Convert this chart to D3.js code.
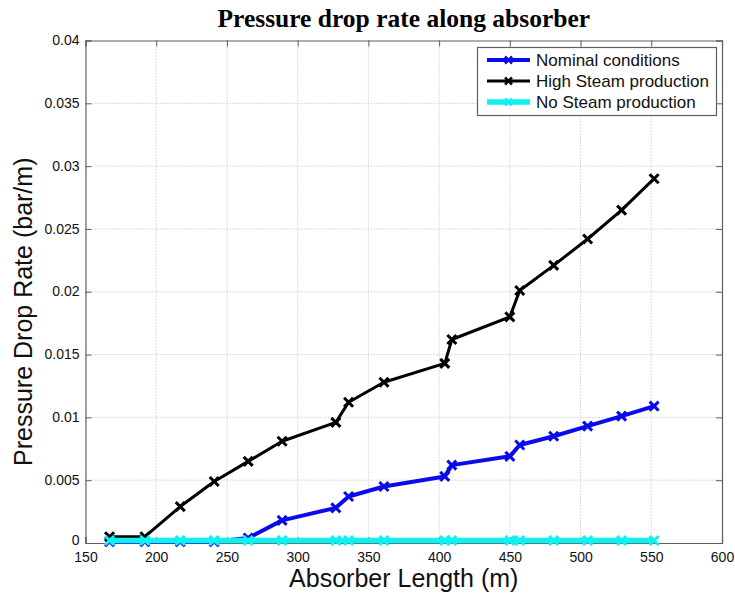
<!DOCTYPE html>
<html>
<head>
<meta charset="utf-8">
<script src="https://cdn.jsdelivr.net/npm/d3@7"></script>
<style>
  html, body { margin: 0; padding: 0; background: #fff; }
  svg { display: block; }
</style>
</head>
<body>
<svg id="chart" width="735" height="594"></svg>
<script>
// Absorber length positions (m)
const lengths = [167, 192, 217, 241, 265, 289, 327, 336, 361, 404, 409, 450, 457, 481, 505, 529, 552];

// Pressure drop rate (bar/m) per operating case
const nominal = [0.0001, 0.0001, 0.0001, 0.0001, 0.0004, 0.0018, 0.0028, 0.0037, 0.0045, 0.0053, 0.0062, 0.0069, 0.0078, 0.0085, 0.0093, 0.0101, 0.0109];
const highSteam = [0.0005, 0.0005, 0.0029, 0.0049, 0.0065, 0.0081, 0.0096, 0.0112, 0.0128, 0.0143, 0.0162, 0.0180, 0.0201, 0.0221, 0.0242, 0.0265, 0.0290];
const noSteam = [0.0002, 0.0002, 0.0002, 0.0002, 0.0002, 0.0002, 0.0002, 0.0002, 0.0002, 0.0002, 0.0002, 0.0002, 0.0002, 0.0002, 0.0002, 0.0002, 0.0002];

const seriesNames = ["Nominal conditions", "High Steam production", "No Steam production"];
const seriesColors = ["#0a0aea", "#000000", "#10f0f0"];
const seriesWidths = [4, 3, 5.5];

const xTicks = [150, 200, 250, 300, 350, 400, 450, 500, 550, 600];
const yTicks = [0, 0.005, 0.01, 0.015, 0.02, 0.025, 0.03, 0.035, 0.04];

const svg = d3.select("#chart");
const L = 85.5, R = 722, T = 40.5, B = 543;

const x = d3.scaleLinear().domain([150, 600]).range([L, R]);
const y = d3.scaleLinear().domain([0, 0.04]).range([B, T]);

// dotted grid
const grid = svg.append("g").attr("stroke", "#b8b8b8").attr("stroke-width", 1)
  .attr("stroke-dasharray", "1,2");
grid.selectAll("line.gx").data(xTicks.slice(1, -1)).join("line")
  .attr("x1", d => x(d)).attr("x2", d => x(d)).attr("y1", T).attr("y2", B);
grid.selectAll("line.gy").data(yTicks.slice(1, -1)).join("line")
  .attr("y1", d => y(d)).attr("y2", d => y(d)).attr("x1", L).attr("x2", R);

// axes with inward ticks on all four sides
const tickFont = "Liberation Sans, Arial, sans-serif";
const axB = svg.append("g").attr("transform", `translate(0,${B})`)
  .call(d3.axisBottom(x).tickValues(xTicks).tickSize(-6).tickPadding(9).tickFormat(d3.format("d")));
const axT = svg.append("g").attr("transform", `translate(0,${T})`)
  .call(d3.axisTop(x).tickValues(xTicks).tickSize(-6).tickFormat(""));
const axL = svg.append("g").attr("transform", `translate(${L},0)`)
  .call(d3.axisLeft(y).tickValues(yTicks).tickSize(-6).tickPadding(6).tickFormat(d3.format("~g")));
const axR = svg.append("g").attr("transform", `translate(${R},0)`)
  .call(d3.axisRight(y).tickValues(yTicks).tickSize(-6).tickFormat(""));
[axB, axT, axL, axR].forEach(a => {
  a.select(".domain").attr("stroke", "#606060").attr("stroke-width", 1.2);
  a.selectAll(".tick line").attr("stroke", "#606060");
  a.selectAll(".tick text").attr("font-family", tickFont).attr("font-size", 14).attr("fill", "#111");
});
axL.selectAll(".tick text").attr("dy", "0.3em");
// keep the zero label clear of the first x label
axL.selectAll(".tick text").filter(d => d === 0).attr("dy", "0.1em");

// series: lines with x markers
const lineGen = d3.line().x(d => x(d[0])).y(d => y(d[1]));
const allSeries = [nominal, highSteam, noSteam];
function cross(g, cx, cy, color, w, m) {
  g.append("path")
    .attr("d", `M${cx - m},${cy - m}L${cx + m},${cy + m}M${cx - m},${cy + m}L${cx + m},${cy - m}`)
    .attr("stroke", color).attr("stroke-width", w).attr("fill", "none");
}
allSeries.forEach((vals, i) => {
  const pts = lengths.map((l, k) => [l, vals[k]]);
  const g = svg.append("g");
  g.append("path").datum(pts).attr("d", lineGen)
    .attr("fill", "none").attr("stroke", seriesColors[i])
    .attr("stroke-width", seriesWidths[i]).attr("stroke-linejoin", "round");
  pts.forEach(p => cross(g, x(p[0]), y(p[1]), seriesColors[i], 3, 4.5));
});

// legend
const lg = svg.append("g");
lg.append("rect").attr("x", 477.5).attr("y", 47.5).attr("width", 239).attr("height", 68)
  .attr("fill", "#fff").attr("stroke", "#606060").attr("stroke-width", 1.2);
seriesNames.forEach((name, i) => {
  const ry = 60 + i * 21;
  lg.append("line").attr("x1", 487).attr("x2", 530).attr("y1", ry).attr("y2", ry)
    .attr("stroke", seriesColors[i]).attr("stroke-width", seriesWidths[i]);
  cross(lg, 508.5, ry, seriesColors[i], 2.5, 3.5);
  lg.append("text").attr("x", 536).attr("y", ry).attr("dy", "0.35em")
    .attr("font-family", tickFont).attr("font-size", 17).attr("fill", "#111").text(name);
});

// title and axis labels
svg.append("text").attr("x", (L + R) / 2).attr("y", 27).attr("text-anchor", "middle")
  .attr("font-family", "Liberation Serif, Times New Roman, serif").attr("font-weight", "bold")
  .attr("font-size", 25.5).attr("fill", "#000").text("Pressure drop rate along absorber");
svg.append("text").attr("x", (L + R) / 2).attr("y", 587).attr("text-anchor", "middle")
  .attr("font-family", tickFont).attr("font-size", 25).attr("fill", "#111").text("Absorber Length (m)");
svg.append("text").attr("transform", `translate(32,${(T + B) / 2 + 20}) rotate(-90)`)
  .attr("text-anchor", "middle")
  .attr("font-family", tickFont).attr("font-size", 25).attr("fill", "#111").text("Pressure Drop Rate (bar/m)");
</script>
</body>
</html>
